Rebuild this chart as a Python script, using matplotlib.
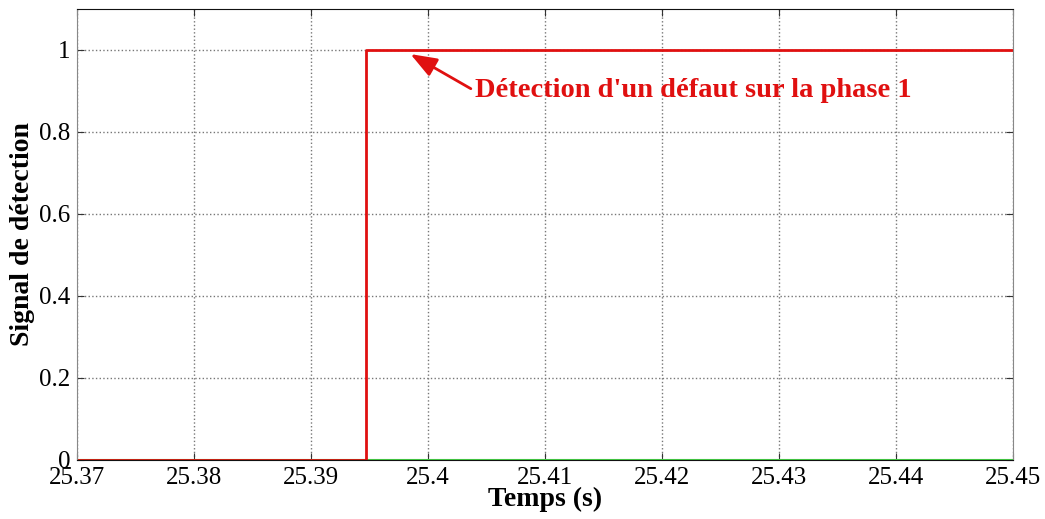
import matplotlib.pyplot as plt
import numpy as np

# Detection signal (phase 1) and the other phases (stay at 0)
t_red = [25.37, 25.3947, 25.3947, 25.3947, 25.3947, 25.3947, 25.45]
y_red = [0, 0, 0.25, 0.5, 0.75, 1, 1]
t_green = [25.37, 25.45]
y_green = [0, 0]

xticks = [25.37, 25.38, 25.39, 25.40, 25.41, 25.42, 25.43, 25.44, 25.45]
xticklabels = ["25.37", "25.38", "25.39", "25.4", "25.41", "25.42", "25.43", "25.44", "25.45"]
yticks = [0, 0.2, 0.4, 0.6, 0.8, 1]
yticklabels = ["0", "0.2", "0.4", "0.6", "0.8", "1"]

plt.rcParams["font.family"] = ["Liberation Serif", "DejaVu Serif"]

fig = plt.figure(figsize=(10.45, 5.19), dpi=100)
ax = fig.add_axes([0.0737, 0.1137, 0.8957, 0.869])

ax.plot(t_green, y_green, color="#44cc44", lw=1.5)
ax.plot(t_red, y_red, color="#e01010", lw=2.0)

ax.set_xlim(25.37, 25.45)
ax.set_ylim(0, 1.1)
ax.set_xticks(xticks)
ax.set_xticklabels(xticklabels)
ax.set_yticks(yticks)
ax.set_yticklabels(yticklabels)
ax.tick_params(direction="in", labelsize=18, length=5, color="#333333",
               top=True, right=True)
ax.tick_params(axis="x", pad=5)
ax.tick_params(axis="y", pad=5)
ax.grid(True, linestyle=":", color="#777777", lw=1.0)
ax.spines["left"].set_color("#888888")
ax.spines["right"].set_color("#888888")
ax.spines["top"].set_color("#111111")
ax.spines["bottom"].set_color("#111111")

ax.set_xlabel("Temps (s)", fontsize=20, fontweight="bold")
ax.xaxis.set_label_coords(0.5, -0.06)
ax.set_ylabel("Signal de détection", fontsize=20, fontweight="bold", labelpad=3)

ax.annotate("Détection d'un défaut sur la phase 1",
            xy=(25.3985, 0.99), xytext=(25.4040, 0.90),
            color="#e01010", fontsize=20.5, fontweight="bold",
            va="center", ha="left",
            arrowprops=dict(arrowstyle="-|>,head_length=0.8,head_width=0.3",
                            color="#e01010", lw=2,
                            mutation_scale=20, shrinkA=1, shrinkB=0,
                            relpos=(0, 0.5)))

fig.savefig("out.png", dpi=100)
